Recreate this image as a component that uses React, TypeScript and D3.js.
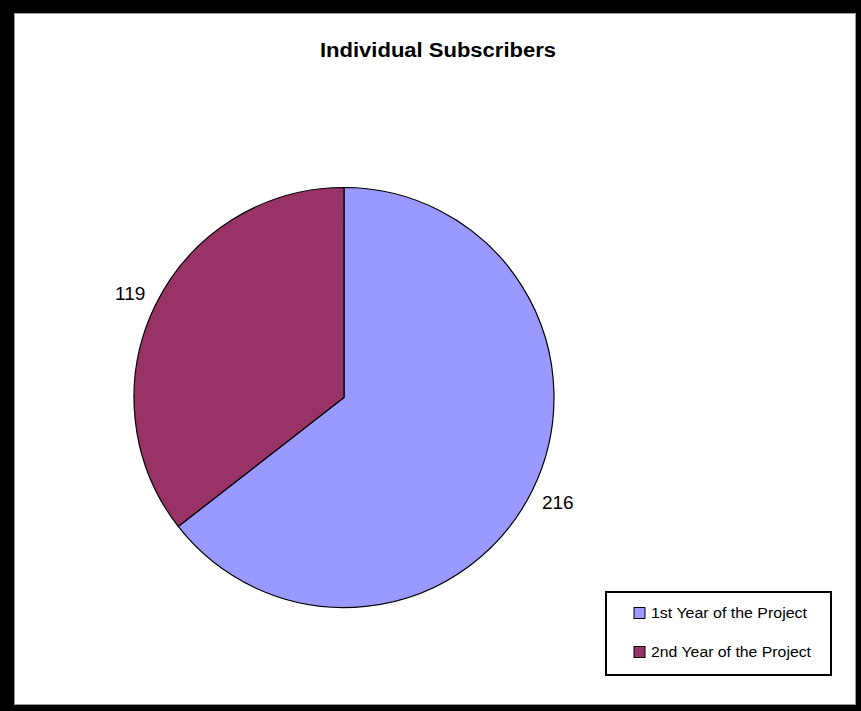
import React from "react";
import * as d3 from "d3";

const categories = ["1st Year of the Project", "2nd Year of the Project"];
const values = [216, 119];
const colors = ["#9999FF", "#993366"];
const title = "Individual Subscribers";

const W = 861;
const H = 711;

export default function App() {
  const cx = 344;
  const cy = 397.5;
  const r = 210;
  const pie = d3
    .pie<number>()
    .sort(null)
    .startAngle(0)
    .endAngle(2 * Math.PI)
    .value((d) => d);
  const arcs = pie(values);
  const arc = d3.arc<d3.PieArcDatum<number>>().innerRadius(0).outerRadius(r);
  const labelArc = d3.arc<d3.PieArcDatum<number>>().innerRadius(238).outerRadius(238);
  const font = "'Liberation Sans', Arial, sans-serif";

  const legendX = 606;
  const legendY = 592;
  const legendW = 225;
  const legendH = 83;
  const rowY = [613, 652];
  const legendLen = [156, 160];

  return (
    <svg
      width={W}
      height={H}
      style={{ position: "absolute", left: 0, top: 0, display: "block" }}
    >
      <rect x={0} y={0} width={W} height={H} fill="#000" />
      <rect x={14} y={13} width={842} height={692} fill="#fff" />
      <rect x={14.5} y={13.5} width={841} height={691} fill="none" stroke="#999" strokeWidth={1} />
      <text
        x={438}
        y={57}
        textAnchor="middle"
        fontFamily={font}
        fontWeight="bold"
        fontSize={20}
        textLength={236}
        lengthAdjust="spacingAndGlyphs"
        fill="#000"
      >
        {title}
      </text>
      <g transform={`translate(${cx},${cy})`}>
        {arcs.map((a, i) => (
          <path key={i} d={arc(a) || ""} fill={colors[i]} stroke="#000" strokeWidth={1.2} />
        ))}
        {arcs.map((a, i) => {
          const [lx, ly] = labelArc.centroid(a);
          return (
            <text
              key={"l" + i}
              x={lx}
              y={ly}
              dy="0.35em"
              textAnchor="middle"
              fontFamily={font}
              fontSize={19}
              fill="#000"
            >
              {values[i]}
            </text>
          );
        })}
      </g>
      <rect
        x={legendX}
        y={legendY}
        width={legendW}
        height={legendH}
        fill="#fff"
        stroke="#000"
        strokeWidth={2}
      />
      {categories.map((c, i) => (
        <g key={c}>
          <rect
            x={634}
            y={rowY[i] - 5.5}
            width={11}
            height={11}
            fill={colors[i]}
            stroke="#000"
            strokeWidth={1}
          />
          <text
            x={651}
            y={rowY[i]}
            dy="0.35em"
            fontFamily={font}
            fontSize={14}
            textLength={legendLen[i]}
            lengthAdjust="spacingAndGlyphs"
            fill="#000"
          >
            {c}
          </text>
        </g>
      ))}
    </svg>
  );
}
